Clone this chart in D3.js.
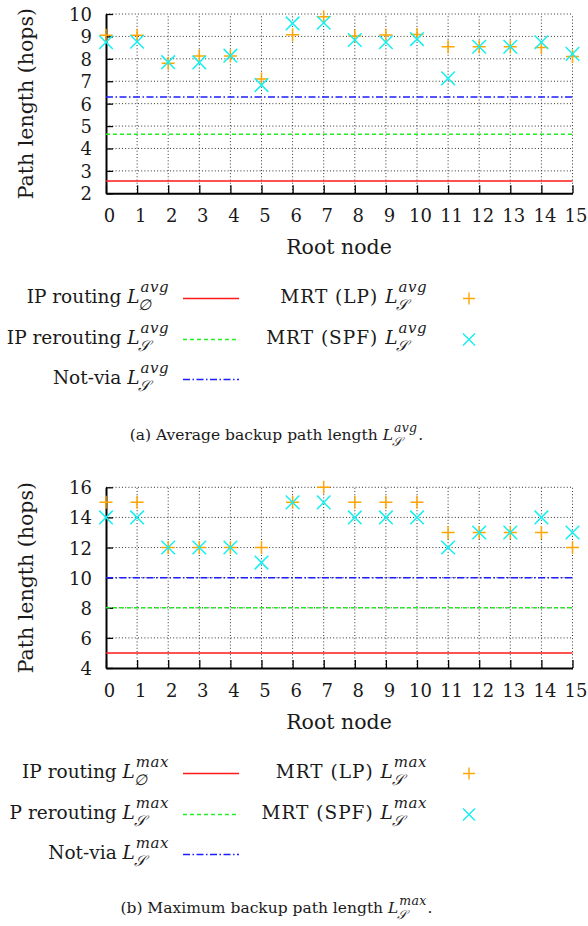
<!DOCTYPE html>
<html><head><meta charset="utf-8">
<script src="https://cdn.jsdelivr.net/npm/d3@7"></script>
<style>
html,body{margin:0;padding:0;background:#fff;}
svg{display:block;}
text{font-family:"DejaVu Serif",serif;fill:#1a1a1a;}
</style></head>
<body>
<svg id="c" width="588" height="926"></svg>
<script>
// ---------- data ----------
const rootNodes = [0,1,2,3,4,5,6,7,8,9,10,11,12,13,14,15];

// (a) average backup path length
const avgTicks = [2,3,4,5,6,7,8,9,10];
const avgIPRouting = 2.55;
const avgIPRerouting = 4.63;
const avgNotVia = 6.3;
const avgMrtLP  = [9.05,9.05,7.8,8.13,8.13,7.1,9.07,9.88,9.02,9.06,9.08,8.54,8.54,8.54,8.5,8.1];
const avgMrtSPF = [8.74,8.76,7.85,7.84,8.14,6.83,9.58,9.61,8.84,8.74,8.88,7.13,8.54,8.54,8.74,8.22];
const avgLabels = ["IP routing","IP rerouting","Not-via","MRT (LP)","MRT (SPF)"];

// (b) maximum backup path length
const maxTicks = [4,6,8,10,12,14,16];
const maxIPRouting = 5;
const maxIPRerouting = 8;
const maxNotVia = 10;
const maxMrtLP  = [15,15,12,12,12,12,15,16,15,15,15,13,13,13,13,12];
const maxMrtSPF = [14,14,12,12,12,11,15,15,14,14,14,12,13,13,14,13];
const maxLabels = ["IP routing","P rerouting","Not-via","MRT (LP)","MRT (SPF)"];

// ---------- styles ----------
const RED="#ff1a1a", GREEN="#22ee22", BLUE="#1c1cff", ORANGE="#ffa500", CYAN="#14f0f0";
const DASH_GREEN="4,3", DASH_BLUE="7,2.5,1.5,2.5";
const SCRIPT_S="\u{1D4AE}", EMPTY="\u2205";
const FONT="DejaVu Serif";

const svg = d3.select("#c");

function mathLabel(g, text, sup, sub, size, supSize, supRise, subDrop, ls){
  const t = g.append("text").attr("x",0).attr("y",0)
    .style("font-size",size+"px").style("letter-spacing",ls+"px");
  t.append("tspan").text(text);
  t.append("tspan").style("font-style","italic").style("letter-spacing","0px").text("L");
  const w = t.node().getComputedTextLength();
  const s1 = g.append("text").attr("x",w+1).attr("y",-supRise)
    .style("font-size",supSize+"px").style("font-style","italic").style("letter-spacing","0.5px").text(sup);
  const s2 = g.append("text").attr("x",w-1).attr("y",subDrop)
    .style("font-size",supSize+"px").style("font-style","italic").text(sub);
  const tot = w + 1 + Math.max(s1.node().getComputedTextLength(), s2.node().getComputedTextLength()-2);
  return tot;
}

function drawPanel(opt){
  const x = d3.scaleLinear().domain([0,15]).range([106,572.5]);
  const y = d3.scaleLinear().domain(opt.domain).range(opt.yRange);
  const g = svg.append("g");

  // grid
  g.append("g").selectAll("line.vg").data(rootNodes.slice(1)).join("line")
    .attr("x1",d=>x(d)).attr("x2",d=>x(d)).attr("y1",opt.yRange[0]).attr("y2",opt.yRange[1])
    .attr("stroke","#333").attr("stroke-width",1).attr("stroke-dasharray","1,2.2");
  g.append("g").selectAll("line.hg").data(opt.ticks.slice(1)).join("line")
    .attr("x1",x(0)).attr("x2",x(15)).attr("y1",d=>y(d)).attr("y2",d=>y(d))
    .attr("stroke","#333").attr("stroke-width",1).attr("stroke-dasharray","1,2.2");

  // axes
  const yAxis = d3.axisLeft(y).tickValues(opt.ticks).tickSize(-7).tickPadding(14).tickSizeOuter(0);
  const ya = g.append("g").attr("transform",`translate(${x(0)},0)`).call(yAxis);
  ya.attr("font-family",FONT);
  ya.select(".domain").attr("stroke","#000").attr("stroke-width",2);
  ya.selectAll(".tick line").attr("stroke","#000").attr("stroke-width",1.3);
  ya.selectAll(".tick text").style("font-size","18px").style("font-family",FONT).attr("fill","#1a1a1a").attr("dy","0.36em");

  const xAxis = d3.axisBottom(x).tickValues(rootNodes).tickSize(-8).tickPadding(0).tickSizeOuter(0);
  const xa = g.append("g").attr("transform",`translate(0,${opt.yRange[0]})`).call(xAxis);
  xa.attr("font-family",FONT);
  xa.select(".domain").attr("stroke","#000").attr("stroke-width",2);
  xa.selectAll(".tick line").attr("stroke","#000").attr("stroke-width",1.3);
  xa.selectAll(".tick text").style("font-size","18px").style("font-family",FONT).attr("fill","#1a1a1a")
    .attr("y",29).attr("dy",0).attr("dx",3);

  // axis titles
  g.append("text").attr("transform",`translate(33,${(opt.yRange[0]+opt.yRange[1])/2}) rotate(-90)`)
    .attr("text-anchor","middle").style("font-size","20.5px").text("Path length (hops)");
  g.append("text").attr("x",339).attr("y",opt.yRange[0]+61).attr("text-anchor","middle")
    .style("font-size","20.5px").text("Root node");

  // horizontal reference lines
  const refs = [
    {v:opt.ip, c:RED, d:null},
    {v:opt.rer, c:GREEN, d:DASH_GREEN},
    {v:opt.nv, c:BLUE, d:DASH_BLUE}
  ];
  g.append("g").selectAll("line").data(refs).join("line")
    .attr("x1",x(0)).attr("x2",x(15)).attr("y1",d=>y(d.v)).attr("y2",d=>y(d.v))
    .attr("stroke",d=>d.c).attr("stroke-width",1.5).attr("stroke-dasharray",d=>d.d);

  // markers
  const r=6.5, rx=6.8;
  g.append("g").selectAll("path").data(opt.lp).join("path")
    .attr("d",(d,i)=>`M${x(rootNodes[i])-r},${y(d)}h${2*r}M${x(rootNodes[i])},${y(d)-r}v${2*r}`)
    .attr("stroke",ORANGE).attr("stroke-width",1.5).attr("fill","none");
  g.append("g").selectAll("path").data(opt.spf).join("path")
    .attr("d",(d,i)=>{const cx=x(rootNodes[i]),cy=y(d);return `M${cx-rx},${cy-rx}L${cx+rx},${cy+rx}M${cx-rx},${cy+rx}L${cx+rx},${cy-rx}`;})
    .attr("stroke",CYAN).attr("stroke-width",1.5).attr("fill","none");

  // legend
  const L = opt.legendTop;
  const rows = [L+4, L+45, L+85];
  const entries = [
    {col:0,row:0,lab:opt.labels[0],sub:EMPTY,kind:"line",c:RED,d:null},
    {col:0,row:1,lab:opt.labels[1],sub:SCRIPT_S,kind:"line",c:GREEN,d:DASH_GREEN},
    {col:0,row:2,lab:opt.labels[2],sub:SCRIPT_S,kind:"line",c:BLUE,d:DASH_BLUE},
    {col:1,row:0,lab:opt.labels[3],sub:SCRIPT_S,kind:"plus",c:ORANGE},
    {col:1,row:1,lab:opt.labels[4],sub:SCRIPT_S,kind:"cross",c:CYAN}
  ];
  entries.forEach(e=>{
    const base = rows[e.row];
    const right = e.col===0 ? 169 : 427;
    const lg = g.append("g");
    const w = mathLabel(lg, e.lab+" ", opt.sup, e.sub, 18.5, 15, 11, 6.5, e.col===0 ? 0 : 1);
    lg.attr("transform",`translate(${right-w},${base})`);
    const my = base-4.5;
    if(e.kind==="line"){
      g.append("line").attr("x1",183).attr("x2",239).attr("y1",my).attr("y2",my)
        .attr("stroke",e.c).attr("stroke-width",1.5).attr("stroke-dasharray",e.d);
    } else if(e.kind==="plus"){
      g.append("path").attr("d",`M${469-6},${my}h12M469,${my-6}v12`).attr("stroke",e.c).attr("stroke-width",1.4).attr("fill","none");
    } else {
      g.append("path").attr("d",`M${463},${my-6}L${475},${my+6}M${463},${my+6}L${475},${my-6}`).attr("stroke",e.c).attr("stroke-width",1.4).attr("fill","none");
    }
  });

  // caption
  const cg = g.append("g");
  const t = cg.append("text").attr("x",0).attr("y",0).style("font-size","15.5px");
  t.append("tspan").text(opt.caption+" ");
  t.append("tspan").style("font-style","italic").text("L");
  const w0 = t.node().getComputedTextLength();
  const sp = cg.append("text").attr("x",w0+1).attr("y",-8).style("font-size","12.5px").style("font-style","italic").style("letter-spacing","0.3px").text(opt.sup);
  cg.append("text").attr("x",w0-1).attr("y",6).style("font-size","12.5px").style("font-style","italic").text(SCRIPT_S);
  const w1 = w0+1+sp.node().getComputedTextLength();
  cg.append("text").attr("x",w1+1).attr("y",0).style("font-size","15.5px").text(".");
  cg.attr("transform",`translate(${276-(w1+5)/2},${opt.captionY})`);
}

drawPanel({domain:[2,10], yRange:[193.3,14], ticks:avgTicks,
  ip:avgIPRouting, rer:avgIPRerouting, nv:avgNotVia, lp:avgMrtLP, spf:avgMrtSPF,
  labels:avgLabels, sup:"avg", legendTop:299, caption:"(a) Average backup path length", captionY:440});
drawPanel({domain:[4,16], yRange:[668,487.3], ticks:maxTicks,
  ip:maxIPRouting, rer:maxIPRerouting, nv:maxNotVia, lp:maxMrtLP, spf:maxMrtSPF,
  labels:maxLabels, sup:"max", legendTop:774, caption:"(b) Maximum backup path length", captionY:913});
</script>
</body></html>
